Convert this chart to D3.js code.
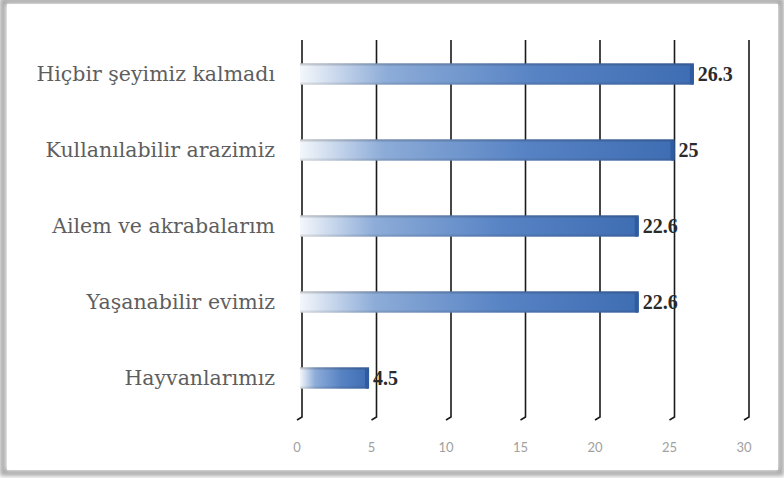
<!DOCTYPE html>
<html>
<head>
<meta charset="utf-8">
<style>
body{margin:0;background:#fff;}
svg{display:block;}
</style>
</head>
<body>
<svg id="chart"></svg>
<script src="https://d3js.org/d3.v7.min.js"></script>
<script>
// veriler
var categories = ["Hiçbir şeyimiz kalmadı","Kullanılabilir arazimiz","Ailem ve akrabalarım","Yaşanabilir evimiz","Hayvanlarımız"];
var values = [26.3, 25, 22.6, 22.6, 4.5];
var valueLabels = ["26.3","25","22.6","22.6","4.5"];
var ticks = [0,5,10,15,20,25,30];

var width = 784, height = 478;
var svg = d3.select("#chart").attr("width", width).attr("height", height);

// çerçeve
var defs = svg.append("defs");
var sh = defs.append("filter").attr("id","shadow").attr("x","-5%").attr("y","-5%").attr("width","110%").attr("height","110%");
sh.append("feGaussianBlur").attr("stdDeviation",2);
svg.append("rect").attr("x",3).attr("y",1).attr("width",778).attr("height",472)
  .attr("fill","none").attr("stroke","#a9a9a9").attr("stroke-width",6).attr("filter","url(#shadow)");
svg.append("rect").attr("x",7).attr("y",4).attr("width",771).attr("height",466).attr("fill","#fff");

var plot = {left:302, right:749, top:36, bottom:416};
var x = d3.scaleLinear().domain([0,30]).range([plot.left, plot.right]);
var y = d3.scaleBand().domain(categories).range([plot.top, plot.bottom]).paddingInner(0.72).paddingOuter(0.36);

// çubuk gradyanı
var grad = defs.append("linearGradient").attr("id","barGrad").attr("x1","0").attr("x2","1").attr("y1","0").attr("y2","0");
grad.append("stop").attr("offset","0").attr("stop-color","#f4f7fb");
grad.append("stop").attr("offset","0.22").attr("stop-color","#8dacd8");
grad.append("stop").attr("offset","0.6").attr("stop-color","#5783c4");
grad.append("stop").attr("offset","1").attr("stop-color","#3f6db3");
var shade = defs.append("linearGradient").attr("id","barShade").attr("x1","0").attr("x2","0").attr("y1","0").attr("y2","1");
shade.append("stop").attr("offset","0").attr("stop-color","#000").attr("stop-opacity",0.25);
shade.append("stop").attr("offset","0.15").attr("stop-color","#000").attr("stop-opacity",0);
shade.append("stop").attr("offset","0.85").attr("stop-color","#000").attr("stop-opacity",0);
shade.append("stop").attr("offset","1").attr("stop-color","#000").attr("stop-opacity",0.15);

// ızgara çizgileri
var grid = svg.append("g");
grid.selectAll("path").data(ticks).join("path")
  .attr("d", function(d){ var gx = x(d); return "M"+gx+","+(plot.top+4)+"V"+(plot.bottom+1)+"L"+(gx-5)+","+(plot.bottom+4); })
  .attr("fill","none").attr("stroke","#1a1a1a").attr("stroke-width",1.6);

// eksen etiketleri
svg.append("g").selectAll("text").data(ticks).join("text")
  .attr("x", function(d){ return x(d)-5; }).attr("y", 452)
  .attr("text-anchor","middle")
  .attr("font-family","Lato, 'Open Sans', sans-serif").attr("font-size",13).attr("fill","#a0a0a0")
  .text(function(d){ return d; });

// çubuklar
var bars = svg.append("g").selectAll("g").data(values).join("g");
bars.append("rect")
  .attr("x", x(0)-2).attr("y", function(d,i){ return y(categories[i]); })
  .attr("width", function(d){ return x(d)-x(0)+2; }).attr("height", y.bandwidth())
  .attr("fill","url(#barGrad)");
bars.append("rect")
  .attr("x", x(0)-2).attr("y", function(d,i){ return y(categories[i]); })
  .attr("width", function(d){ return x(d)-x(0)+2; }).attr("height", y.bandwidth())
  .attr("fill","url(#barShade)");
bars.append("rect")
  .attr("x", function(d){ return x(d)-4; }).attr("y", function(d,i){ return y(categories[i])+1; })
  .attr("width",4).attr("height", y.bandwidth()-1).attr("rx",2)
  .attr("fill","#2f5ba0");

// değer etiketleri
svg.append("g").selectAll("text").data(values).join("text")
  .attr("x", function(d){ return x(d)+4; })
  .attr("y", function(d,i){ return y(categories[i]) + y.bandwidth()/2 + 7; })
  .attr("font-family","'Liberation Serif', 'DejaVu Serif', serif").attr("font-weight","bold")
  .attr("font-size",20).attr("fill","#2b2b2b")
  .text(function(d,i){ return valueLabels[i]; });

// kategori etiketleri
svg.append("g").selectAll("text").data(categories).join("text")
  .attr("x", 275)
  .attr("y", function(d){ return y(d) + y.bandwidth()/2 + 7; })
  .attr("text-anchor","end")
  .attr("font-family","'DejaVu Serif', 'Liberation Serif', serif")
  .attr("font-size",20.5).attr("fill","#5e5e5e")
  .text(function(d){ return d; });
</script>
</body>
</html>
